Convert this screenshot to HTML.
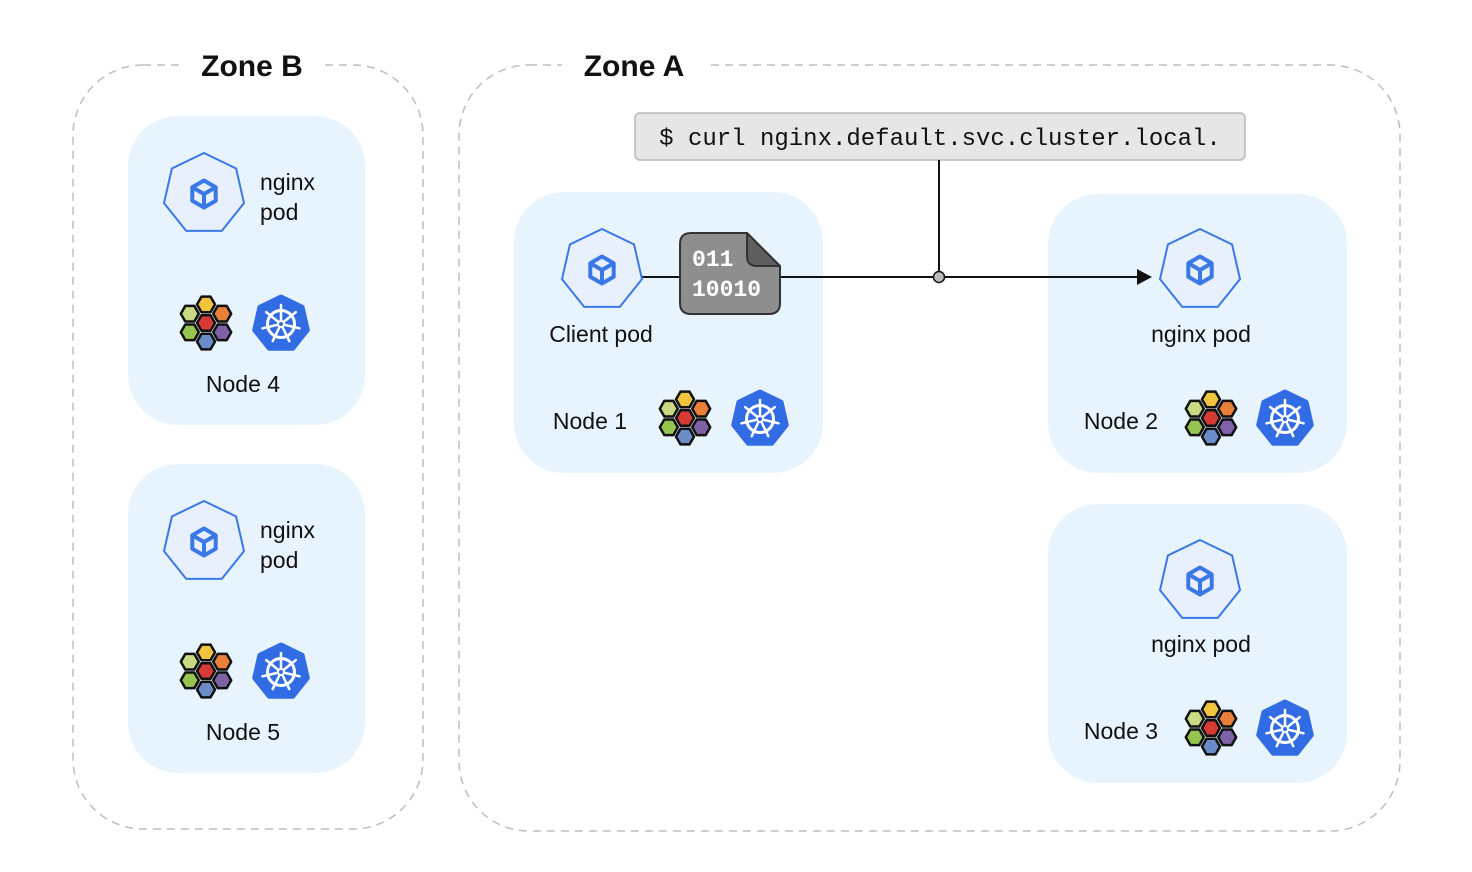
<!DOCTYPE html>
<html><head><meta charset="utf-8"><style>
html,body{margin:0;padding:0;background:#fff;}
svg{display:block;}
text{font-family:"Liberation Sans",sans-serif;}
</style></head><body>
<svg width="1472" height="872" viewBox="0 0 1472 872" xmlns="http://www.w3.org/2000/svg">
<defs>
<g id="pod">
<polygon points="0,-41 32.1,-25.5 40,9.1 17.8,36.9 -17.8,36.9 -40,9.1 -32.1,-25.5" fill="#e8f0fe" stroke="#3b78e7" stroke-width="2"/>
<g fill="none" stroke="#3b78e7" stroke-width="4" stroke-linejoin="round">
<polygon points="0,-13.5 11.7,-6.75 11.7,6.75 0,13.5 -11.7,6.75 -11.7,-6.75"/>
<polyline points="-11.7,-6.75 0,0 11.7,-6.75"/><line x1="0" y1="0" x2="0" y2="13.5"/>
</g>
</g>
<polygon id="hx" points="9,0 4.5,7.8 -4.5,7.8 -9,0 -4.5,-7.8 4.5,-7.8" stroke="#111" stroke-width="2.5" stroke-linejoin="round"/>
<g id="cil">
<use href="#hx" x="0" y="-18.6" fill="#f0c43d"/>
<use href="#hx" x="-16.2" y="-9.3" fill="#c8da82"/>
<use href="#hx" x="16.2" y="-9.3" fill="#e8803a"/>
<use href="#hx" x="0" y="0" fill="#d83a35"/>
<use href="#hx" x="-16.2" y="9.3" fill="#97c44e"/>
<use href="#hx" x="16.2" y="9.3" fill="#7d62a8"/>
<use href="#hx" x="0" y="18.6" fill="#6a8cc8"/>
</g>
<g id="k8s">
<polygon points="0,-27 21.1,-16.8 26.3,6 11.7,24.3 -11.7,24.3 -26.3,6 -21.1,-16.8" fill="#326ce5" stroke="#326ce5" stroke-width="5" stroke-linejoin="round"/>
<circle r="13.5" fill="none" stroke="#fff" stroke-width="3"/>
<g stroke="#fff" stroke-width="2.5" stroke-linecap="round">
<line x1="0" y1="0" x2="0" y2="-19"/>
<line x1="0" y1="0" x2="14.8" y2="-11.9"/>
<line x1="0" y1="0" x2="18.5" y2="4.3"/>
<line x1="0" y1="0" x2="8.3" y2="17.1"/>
<line x1="0" y1="0" x2="-8.3" y2="17.1"/>
<line x1="0" y1="0" x2="-18.5" y2="4.3"/>
<line x1="0" y1="0" x2="-14.8" y2="-11.9"/>
</g>
<circle r="4" fill="#fff"/><circle r="2" fill="#326ce5"/>
</g>
</defs>

<rect x="73" y="65" width="350" height="764" rx="70" fill="none" stroke="#bdbdbd" stroke-width="1.5" stroke-dasharray="8,6"/>
<rect x="180" y="45" width="142" height="40" fill="#fff"/>
<text x="252" y="76" text-anchor="middle" font-size="30" font-weight="bold" fill="#111">Zone B</text>
<rect x="459" y="65" width="941" height="766" rx="70" fill="none" stroke="#bdbdbd" stroke-width="1.5" stroke-dasharray="8,6"/>
<rect x="562" y="45" width="144" height="40" fill="#fff"/>
<text x="634" y="76" text-anchor="middle" font-size="30" font-weight="bold" fill="#111">Zone A</text>

<rect x="128" y="116" width="237" height="309" rx="50" fill="#e8f4fd"/>
<rect x="128" y="464" width="237" height="309" rx="50" fill="#e8f4fd"/>
<rect x="514" y="192" width="309" height="281" rx="50" fill="#e8f4fd"/>
<rect x="1048" y="194" width="299" height="279" rx="50" fill="#e8f4fd"/>
<rect x="1048" y="504" width="299" height="279" rx="50" fill="#e8f4fd"/>

<rect x="635" y="113" width="610" height="47" rx="5" fill="#e6e6e6" stroke="#bbb" stroke-width="1.5"/>
<text x="940" y="145" text-anchor="middle" font-size="24" fill="#111" style="font-family:'Liberation Mono',monospace">$ curl nginx.default.svc.cluster.local.</text>

<line x1="939" y1="160" x2="939" y2="277" stroke="#111" stroke-width="2"/>
<line x1="641" y1="277" x2="1140" y2="277" stroke="#111" stroke-width="2"/>
<polygon points="1137,269 1152,277 1137,285" fill="#111"/>
<circle cx="939" cy="277" r="5.5" fill="#bbb" stroke="#111" stroke-width="1.5"/>

<use href="#pod" x="204" y="194"/>
<text x="260" y="190" font-size="23" fill="#111">nginx</text>
<text x="260" y="220" font-size="23" fill="#111">pod</text>
<use href="#cil" x="206" y="323"/>
<use href="#k8s" x="281" y="324"/>
<text x="243" y="392" text-anchor="middle" font-size="23" fill="#111">Node 4</text>

<use href="#pod" x="204" y="542"/>
<text x="260" y="538" font-size="23" fill="#111">nginx</text>
<text x="260" y="568" font-size="23" fill="#111">pod</text>
<use href="#cil" x="206" y="671"/>
<use href="#k8s" x="281" y="672"/>
<text x="243" y="740" text-anchor="middle" font-size="23" fill="#111">Node 5</text>

<use href="#pod" x="602" y="270"/>
<text x="601" y="342" text-anchor="middle" font-size="23" fill="#111">Client pod</text>
<text x="590" y="429" text-anchor="middle" font-size="23" fill="#111">Node 1</text>
<use href="#cil" x="685" y="418"/>
<use href="#k8s" x="760" y="419"/>
<path d="M691,233 L747,233 L780,266 L780,303 Q780,314 769,314 L691,314 Q680,314 680,303 L680,244 Q680,233 691,233 Z" fill="#8e8e8e" stroke="#333" stroke-width="2"/>
<path d="M747,233 L747,256 Q747,266 757,266 L780,266 Z" fill="#5f5f5f" stroke="#333" stroke-width="2" stroke-linejoin="round"/>
<text x="692" y="266" font-size="23" font-weight="bold" fill="#fff" style="font-family:'Liberation Mono',monospace">011</text>
<text x="692" y="296" font-size="23" font-weight="bold" fill="#fff" style="font-family:'Liberation Mono',monospace">10010</text>

<use href="#pod" x="1200" y="270"/>
<text x="1201" y="342" text-anchor="middle" font-size="23" fill="#111">nginx pod</text>
<text x="1121" y="429" text-anchor="middle" font-size="23" fill="#111">Node 2</text>
<use href="#cil" x="1211" y="418"/>
<use href="#k8s" x="1285" y="419"/>

<use href="#pod" x="1200" y="581"/>
<text x="1201" y="652" text-anchor="middle" font-size="23" fill="#111">nginx pod</text>
<text x="1121" y="739" text-anchor="middle" font-size="23" fill="#111">Node 3</text>
<use href="#cil" x="1211" y="728"/>
<use href="#k8s" x="1285" y="729"/>
</svg>
</body></html>
